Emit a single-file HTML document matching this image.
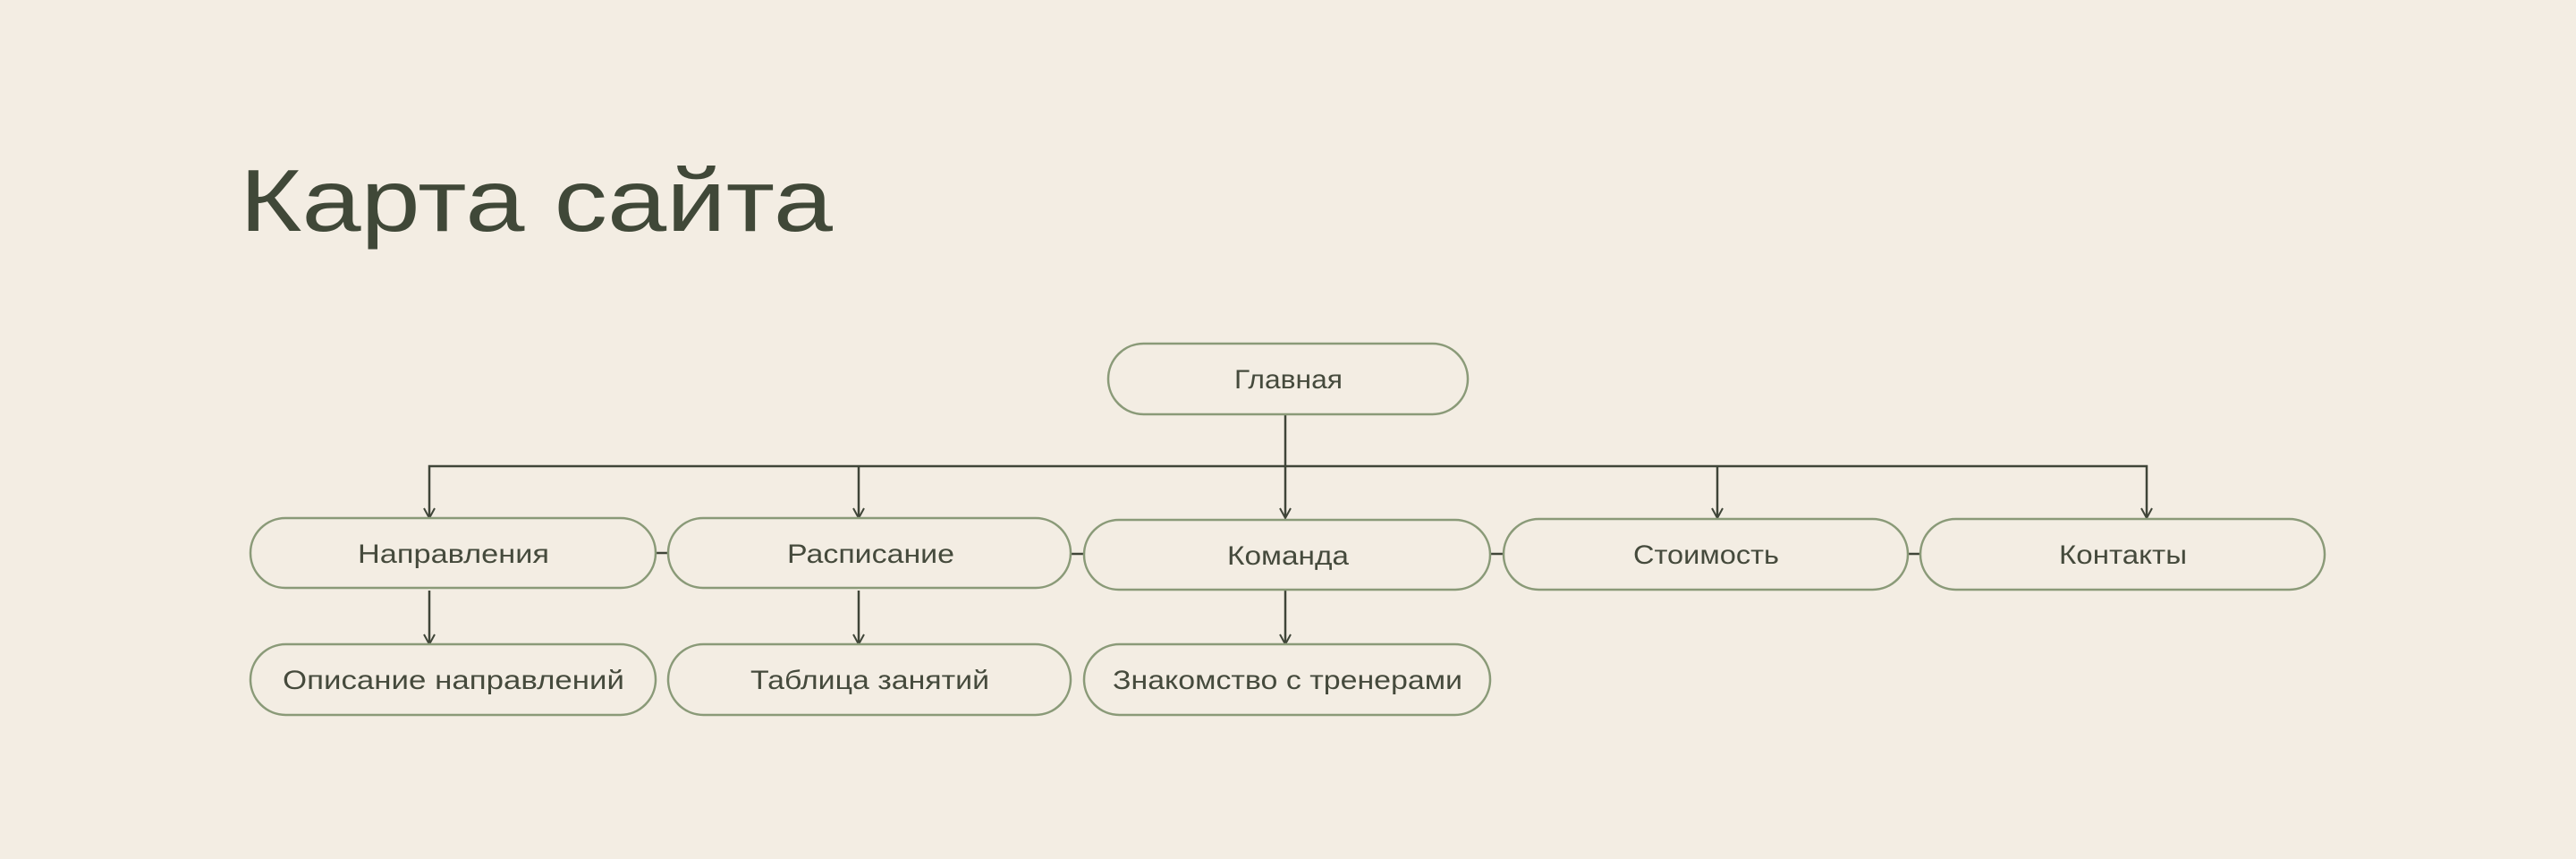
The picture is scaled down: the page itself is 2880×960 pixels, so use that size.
<!DOCTYPE html>
<html><head><meta charset="utf-8"><style>
html,body{margin:0;padding:0;background:#f3ede3;}
svg{display:block}
text{font-family:"Liberation Sans","DejaVu Sans",sans-serif;fill:#454a3c}
</style></head><body>
<svg width="2880" height="960" viewBox="0 0 2880 960" xmlns="http://www.w3.org/2000/svg">
<rect width="2880" height="960" fill="#f3ede3"/>
<text x="268" y="258" font-size="98" textLength="663" lengthAdjust="spacingAndGlyphs" style="fill:#404838">Карта сайта</text>
<g fill="none" stroke="#3f4538" stroke-width="2.5">
<line x1="1437" y1="463" x2="1437" y2="578"/>
<polyline points="480,578 480,521 2400,521 2400,578"/>
<line x1="960" y1="521" x2="960" y2="578"/>
<line x1="1920" y1="521" x2="1920" y2="578"/>
<line x1="480" y1="660" x2="480" y2="719"/>
<line x1="960" y1="660" x2="960" y2="719"/>
<line x1="1437" y1="660" x2="1437" y2="719"/>
<line x1="733" y1="618" x2="747" y2="618"/>
<line x1="1197" y1="619" x2="1212" y2="619"/>
<line x1="1666" y1="619" x2="1681" y2="619"/>
<line x1="2133" y1="619" x2="2147" y2="619"/>
</g>
<g fill="none" stroke="#3f4538" stroke-width="2">
<polyline points="474,568 480,579 486,568"/>
<polyline points="954,568 960,579 966,568"/>
<polyline points="1431,568 1437,579 1443,568"/>
<polyline points="1914,568 1920,579 1926,568"/>
<polyline points="2394,568 2400,579 2406,568"/>
<polyline points="474,709 480,720 486,709"/>
<polyline points="954,709 960,720 966,709"/>
<polyline points="1431,709 1437,720 1443,709"/>
</g>
<g fill="#f3ede3" stroke="#8a9a78" stroke-width="2.5">
<rect x="1239" y="384" width="402" height="79" rx="39.5"/>
<rect x="280" y="579" width="453" height="78" rx="39"/>
<rect x="747" y="579" width="450" height="78" rx="39"/>
<rect x="1212" y="581" width="454" height="78" rx="39"/>
<rect x="1681" y="580" width="452" height="79" rx="39.5"/>
<rect x="2147" y="580" width="452" height="79" rx="39.5"/>
<rect x="280" y="720" width="453" height="79" rx="39.5"/>
<rect x="747" y="720" width="450" height="79" rx="39.5"/>
<rect x="1212" y="720" width="454" height="79" rx="39.5"/>
</g>
<g font-size="30" lengthAdjust="spacingAndGlyphs">
<text x="1380" y="434" textLength="121" lengthAdjust="spacingAndGlyphs">Главная</text>
<text x="400" y="629" textLength="214" lengthAdjust="spacingAndGlyphs">Направления</text>
<text x="880" y="629" textLength="187" lengthAdjust="spacingAndGlyphs">Расписание</text>
<text x="1372" y="631" textLength="136" lengthAdjust="spacingAndGlyphs">Команда</text>
<text x="1826" y="630" textLength="163" lengthAdjust="spacingAndGlyphs">Стоимость</text>
<text x="2302" y="630" textLength="143" lengthAdjust="spacingAndGlyphs">Контакты</text>
<text x="316" y="770" textLength="382" lengthAdjust="spacingAndGlyphs">Описание направлений</text>
<text x="839" y="770" textLength="267" lengthAdjust="spacingAndGlyphs">Таблица занятий</text>
<text x="1244" y="770" textLength="391" lengthAdjust="spacingAndGlyphs">Знакомство с тренерами</text>
</g>
</svg>
</body></html>
